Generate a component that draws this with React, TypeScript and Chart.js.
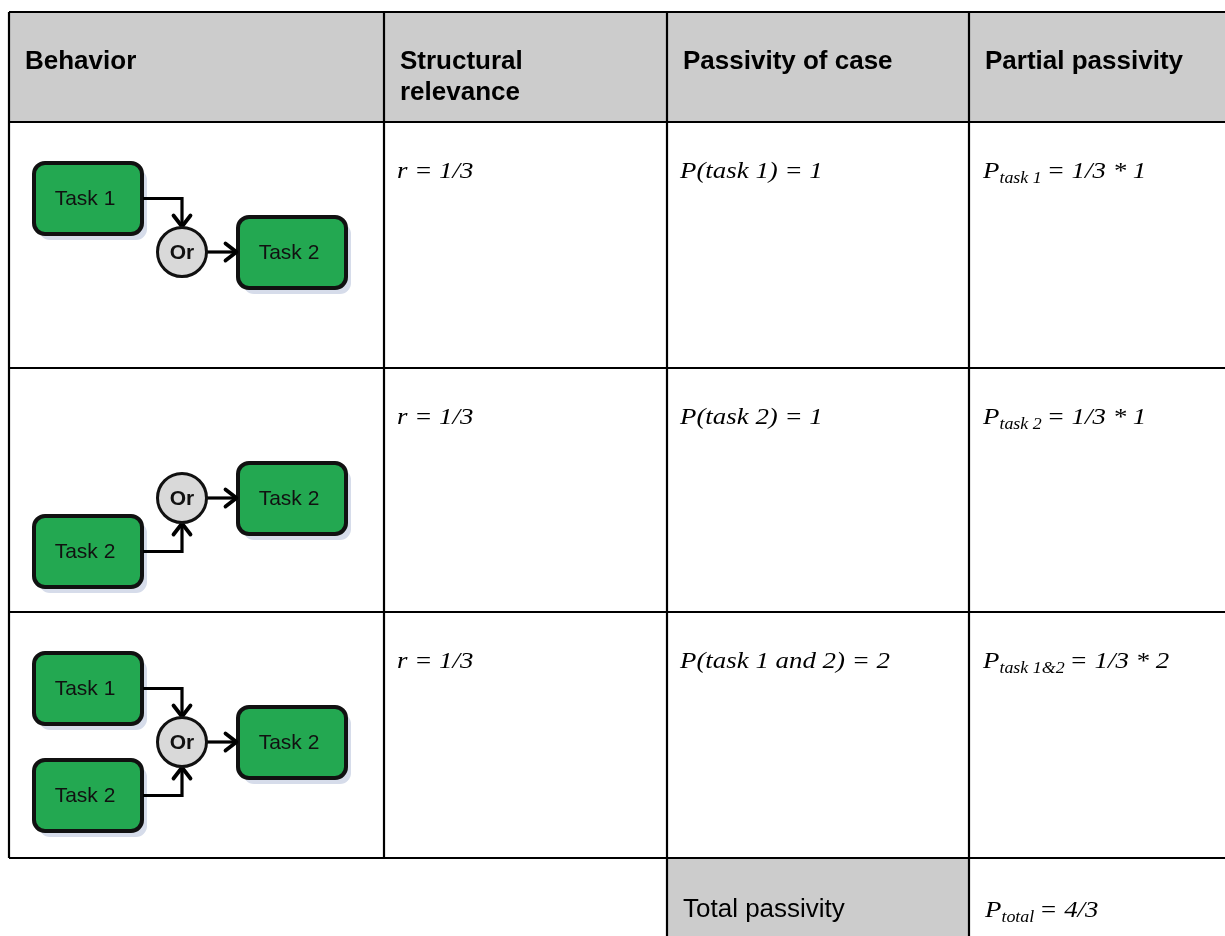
import React, { useEffect, useRef } from "react";
import { Chart, registerables } from "chart.js";

Chart.register(...registerables);

// ---------- data ----------
const headers = ["Behavior", "Structural\nrelevance", "Passivity of case", "Partial passivity"];
const relevance = ["r = 1/3", "r = 1/3", "r = 1/3"];
const caseLabels = ["P(task 1) = 1", "P(task 2) = 1", "P(task 1 and 2) = 2"];
const partialSubs = ["task 1", "task 2", "task 1&2"];
const partialExpr = ["= 1/3 * 1", "= 1/3 * 1", "= 1/3 * 2"];
const behaviorInputs = [["Task 1", ""], ["", "Task 2"], ["Task 1", "Task 2"]];
const behaviorTargets = ["Task 2", "Task 2", "Task 2"];
const gateLabel = "Or";
const totalLabel = "Total passivity";
const totalSub = "total";
const totalExpr = "= 4/3";

// ---------- layout ----------
const W = 1225;
const H = 936;
const colX = [9, 384, 667, 969, 1260];
const rowY = [12, 122, 368, 612, 858, 960];
const box = { inX0: 34, inX1: 142, tgtX0: 238, tgtX1: 346, gateX: 182, gateR: 24.5 };
const rel = { inTop: [41, 112], inBot: [148, 219], gate: 130, tgt: [95, 166] };

const SANS = "'Liberation Sans', Arial, sans-serif";
const SERIF = "'Liberation Serif', 'Times New Roman', serif";
const SX = 1.12;

function App() {
  const ref = useRef<HTMLCanvasElement | null>(null);

  useEffect(() => {
    if (!ref.current) return;

    const gatePoints = behaviorInputs.map((_, i) => ({ x: box.gateX, y: rowY[i + 1] + rel.gate }));

    const tablePlugin = {
      id: "tablePlugin",
      beforeDatasetsDraw(chart: any) {
        const ctx: CanvasRenderingContext2D = chart.ctx;
        const sx = chart.scales.x;
        const sy = chart.scales.y;
        const X = (v: number) => sx.getPixelForValue(v);
        const Y = (v: number) => sy.getPixelForValue(v);

        const text = (t: string, x: number, y: number, font: string, stretch = 1, align: CanvasTextAlign = "left") => {
          ctx.save();
          ctx.font = font;
          ctx.fillStyle = "#000";
          ctx.textBaseline = "alphabetic";
          ctx.textAlign = align;
          ctx.translate(X(x), Y(y));
          ctx.scale(stretch, 1);
          ctx.fillText(t, 0, 0);
          const w = ctx.measureText(t).width * stretch;
          ctx.restore();
          return w;
        };

        const subFormula = (sub: string, expr: string, x: number, y: number) => {
          let cx = x;
          cx += text("P", cx, y, `italic 24px ${SERIF}`, SX);
          cx += text(sub, cx, y + 5, `italic 16px ${SERIF}`, SX);
          cx += 5;
          text(expr, cx, y, `italic 24px ${SERIF}`, SX);
        };

        ctx.save();
        // backgrounds
        ctx.fillStyle = "#cccccc";
        ctx.fillRect(X(colX[0]), Y(rowY[0]), X(colX[4]) - X(colX[0]), Y(rowY[1]) - Y(rowY[0]));
        ctx.fillRect(X(colX[2]), Y(rowY[4]), X(colX[3]) - X(colX[2]), Y(rowY[5]) - Y(rowY[4]));

        // grid
        ctx.strokeStyle = "#000";
        ctx.lineWidth = 2.2;
        ctx.beginPath();
        for (let r = 0; r <= 4; r++) {
          ctx.moveTo(X(colX[0]), Y(rowY[r]));
          ctx.lineTo(X(colX[4]), Y(rowY[r]));
        }
        for (let c = 0; c < 4; c++) {
          ctx.moveTo(X(colX[c]), Y(rowY[0]));
          ctx.lineTo(X(colX[c]), Y(c >= 2 ? rowY[5] : rowY[4]));
        }
        ctx.stroke();
        ctx.restore();

        // headers
        headers.forEach((h, c) => {
          h.split("\n").forEach((line, li) => {
            text(line, colX[c] + 16, 68.5 + li * 31, `bold 26px ${SANS}`);
          });
        });

        // body text
        for (let r = 0; r < 3; r++) {
          const base = rowY[r + 1] + 55.5;
          text(relevance[r], colX[1] + 13, base, `italic 24px ${SERIF}`, SX);
          text(caseLabels[r], colX[2] + 13, base, `italic 24px ${SERIF}`, SX);
          subFormula(partialSubs[r], partialExpr[r], colX[3] + 14, base);
        }

        // total row
        text(totalLabel, colX[2] + 16, 916.5, `26px ${SANS}`);
        subFormula(totalSub, totalExpr, colX[3] + 16, 916.5);

        // diagrams
        const taskBox = (x0: number, y0: number, x1: number, y1: number, label: string) => {
          const r = 11;
          const rr = (ox: number, oy: number) => {
            ctx.beginPath();
            ctx.roundRect(X(x0) + ox, Y(y0) + oy, X(x1) - X(x0), Y(y1) - Y(y0), r);
          };
          ctx.save();
          rr(5, 6);
          ctx.fillStyle = "#d6dcea";
          ctx.fill();
          rr(0, 0);
          ctx.fillStyle = "#23a851";
          ctx.fill();
          ctx.lineWidth = 4;
          ctx.strokeStyle = "#111";
          ctx.stroke();
          ctx.restore();
          ctx.save();
          ctx.font = `21px ${SANS}`;
          ctx.fillStyle = "#111";
          ctx.textAlign = "center";
          ctx.textBaseline = "middle";
          ctx.fillText(label, (X(x0) + X(x1)) / 2 - 3, (Y(y0) + Y(y1)) / 2 + 1);
          ctx.restore();
        };

        const arrowPath = (pts: number[][], dir: "down" | "up" | "right") => {
          ctx.save();
          ctx.strokeStyle = "#000";
          ctx.lineWidth = 3.2;
          ctx.lineJoin = "miter";
          ctx.beginPath();
          pts.forEach(([x, y], i) => (i === 0 ? ctx.moveTo(X(x), Y(y)) : ctx.lineTo(X(x), Y(y))));
          ctx.stroke();
          const [tx, ty] = pts[pts.length - 1];
          const a = 8.5, l = 11;
          ctx.lineWidth = 3.8;
          ctx.lineCap = "round";
          ctx.lineJoin = "round";
          ctx.beginPath();
          if (dir === "down") {
            ctx.moveTo(X(tx - a), Y(ty - l));
            ctx.lineTo(X(tx), Y(ty));
            ctx.lineTo(X(tx + a), Y(ty - l));
          } else if (dir === "up") {
            ctx.moveTo(X(tx - a), Y(ty + l));
            ctx.lineTo(X(tx), Y(ty));
            ctx.lineTo(X(tx + a), Y(ty + l));
          } else {
            ctx.moveTo(X(tx - l), Y(ty - a));
            ctx.lineTo(X(tx), Y(ty));
            ctx.lineTo(X(tx - l), Y(ty + a));
          }
          ctx.stroke();
          ctx.restore();
        };

        behaviorInputs.forEach((inputs, i) => {
          const top = rowY[i + 1];
          const gy = top + rel.gate;
          if (inputs[0]) {
            taskBox(box.inX0, top + rel.inTop[0], box.inX1, top + rel.inTop[1], inputs[0]);
            const ay = top + (rel.inTop[0] + rel.inTop[1]) / 2;
            arrowPath([[box.inX1 + 1, ay], [box.gateX, ay], [box.gateX, gy - box.gateR - 1]], "down");
          }
          if (inputs[1]) {
            taskBox(box.inX0, top + rel.inBot[0], box.inX1, top + rel.inBot[1], inputs[1]);
            const ay = top + (rel.inBot[0] + rel.inBot[1]) / 2;
            arrowPath([[box.inX1 + 1, ay], [box.gateX, ay], [box.gateX, gy + box.gateR + 1]], "up");
          }
          taskBox(box.tgtX0, top + rel.tgt[0], box.tgtX1, top + rel.tgt[1], behaviorTargets[i]);
          arrowPath([[box.gateX + box.gateR, gy], [box.tgtX0 - 1.5, gy]], "right");
        });
      },
      afterDatasetsDraw(chart: any) {
        const ctx: CanvasRenderingContext2D = chart.ctx;
        const meta = chart.getDatasetMeta(0);
        ctx.save();
        ctx.font = `bold 21px ${SANS}`;
        ctx.fillStyle = "#111";
        ctx.textAlign = "center";
        ctx.textBaseline = "middle";
        meta.data.forEach((pt: any) => ctx.fillText(gateLabel, pt.x, pt.y + 1));
        ctx.restore();
      },
    };

    const chart = new Chart(ref.current, {
      type: "scatter",
      data: {
        datasets: [
          {
            label: gateLabel,
            data: gatePoints,
            pointRadius: box.gateR,
            pointHoverRadius: box.gateR,
            pointBackgroundColor: "#d9d9d9",
            pointBorderColor: "#111",
            pointBorderWidth: 3,
          },
        ],
      },
      options: {
        animation: false,
        responsive: false,
        devicePixelRatio: 1,
        events: [],
        layout: { padding: 0, autoPadding: false },
        plugins: { legend: { display: false }, tooltip: { enabled: false } },
        scales: {
          x: { type: "linear", min: 0, max: W, display: false },
          y: { type: "linear", min: 0, max: H, reverse: true, display: false },
        },
      },
      plugins: [tablePlugin],
    });
    return () => chart.destroy();
  }, []);

  return (
    <div style={{ position: "fixed", left: 0, top: 0, width: W, height: H, background: "#fff" }}>
      <canvas ref={ref} width={W} height={H} style={{ display: "block" }} />
    </div>
  );
}

export default App;
